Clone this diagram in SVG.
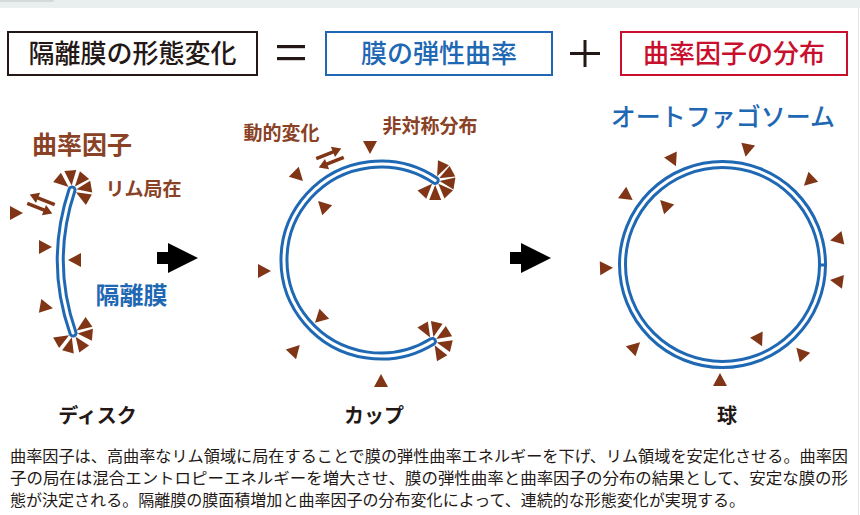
<svg xmlns="http://www.w3.org/2000/svg" xmlns:xlink="http://www.w3.org/1999/xlink" width="860" height="515" viewBox="0 0 860 515">
  <style>
    .jp { font-family: "Noto Sans CJK JP", "Noto Sans", sans-serif; }
    .head { font-size: 26px; font-weight: 500; text-anchor: middle; }
    .brown { fill: #8a4226; font-weight: 700; }
    .blue { fill: #1f68b3; }
    .stage { font-size: 20px; font-weight: 700; fill: #231815; text-anchor: middle; }
    .body { font-size: 15.5px; fill: #231815; }
    .mem-out { fill: none; stroke: #1f68b3; stroke-width: 9; stroke-linecap: round; }
    .mem-in { fill: none; stroke: #ffffff; stroke-width: 3; stroke-linecap: round; }
    .fac { fill: #7f3516; }
    .swap { stroke: #7f3516; stroke-width: 3.4; fill: none; }
  </style>
  <defs>
    <!-- free curvature factor: small triangle pointing along +x -->
    <polygon id="tri" points="7,0 -6,-7 -6,7"/>
    <!-- rim-packed factor: wedge with apex pointing inward -->
    <polygon id="wedge" points="4.5,0 19.5,-6 19.5,6"/>
    <!-- pair of opposing arrows (dynamic exchange) -->
    <g id="swap">
      <line class="swap" x1="13" y1="-4.5" x2="-6" y2="-4.5"/>
      <polygon class="fac" points="-14,-4.5 -5,-10 -5,1"/>
      <line class="swap" x1="-13" y1="4.5" x2="6" y2="4.5"/>
      <polygon class="fac" points="14,4.5 5,-1 5,10"/>
    </g>
  </defs>

  <rect x="0" y="0" width="860" height="515" fill="#ffffff"/>
  <rect x="0" y="0" width="860" height="8" fill="#e9eeee"/>
  <rect x="-10" y="-6" width="65" height="8" rx="4" fill="#d4d9d9"/>
  <line x1="858.5" y1="8" x2="858.5" y2="515" stroke="#e1e6e6" stroke-width="1"/>

  <!-- equation header -->
  <g id="hdr-morph">
    <rect x="8" y="32" width="249" height="43" fill="#ffffff" stroke="#231815" stroke-width="2"/>
    <text class="jp head" x="132.5" y="63" fill="#231815">隔離膜の形態変化</text>
  </g>
  <g id="hdr-equals" fill="#231815">
    <rect x="277" y="45" width="28" height="3.2"/>
    <rect x="277" y="57" width="28" height="3.2"/>
  </g>
  <g id="hdr-elastic">
    <rect x="326" y="32" width="226" height="43" fill="#ffffff" stroke="#1f68b3" stroke-width="2"/>
    <text class="jp head blue" x="439" y="63">膜の弾性曲率</text>
  </g>
  <g id="hdr-plus" fill="#231815">
    <rect x="570" y="52" width="30" height="3"/>
    <rect x="583.5" y="40" width="3" height="27"/>
  </g>
  <g id="hdr-factor">
    <rect x="621" y="32" width="226" height="43" fill="#ffffff" stroke="#c8102e" stroke-width="2"/>
    <text class="jp head" x="734" y="63" fill="#c8102e">曲率因子の分布</text>
  </g>

  <!-- disc stage -->
  <g id="disc">
    <text class="jp brown" x="82" y="154" font-size="25" text-anchor="middle">曲率因子</text>
    <text class="jp brown" x="143.5" y="196" font-size="19" text-anchor="middle">リム局在</text>
    <path class="mem-out" d="M72,190 Q48,262 73,333"/>
    <path class="mem-in" d="M72,190 Q48,262 73,333"/>
    <g class="fac" transform="translate(72,190)">
      <use xlink:href="#wedge" transform="rotate(-140)"/>
      <use xlink:href="#wedge" transform="rotate(-95)"/>
      <use xlink:href="#wedge" transform="rotate(-50)"/>
      <use xlink:href="#wedge" transform="rotate(-10)"/>
      <use xlink:href="#wedge" transform="rotate(30)"/>
    </g>
    <g class="fac" transform="translate(73,333)">
      <use xlink:href="#wedge" transform="rotate(-35)"/>
      <use xlink:href="#wedge" transform="rotate(5)"/>
      <use xlink:href="#wedge" transform="rotate(55)"/>
      <use xlink:href="#wedge" transform="rotate(105)"/>
      <use xlink:href="#wedge" transform="rotate(150)"/>
    </g>
    <g class="fac">
      <use xlink:href="#tri" transform="translate(16,213)"/>
      <use xlink:href="#tri" transform="translate(45,247)"/>
      <use xlink:href="#tri" transform="translate(75,260) rotate(180)"/>
      <use xlink:href="#tri" transform="translate(46,307) rotate(10)"/>
    </g>
    <use xlink:href="#swap" transform="translate(41,204) rotate(22)"/>
    <text class="jp blue" x="131.5" y="304" font-size="24" font-weight="700" text-anchor="middle">隔離膜</text>
  </g>

  <!-- cup stage -->
  <g id="cup">
    <text class="jp brown" x="281.5" y="140" font-size="19" text-anchor="middle">動的変化</text>
    <text class="jp brown" x="430" y="133" font-size="19" text-anchor="middle">非対称分布</text>
    <path class="mem-out" d="M435.2,180.4 A97,96 0 1 0 432.4,341.4"/>
    <path class="mem-in" d="M435.2,180.4 A97,96 0 1 0 432.4,341.4"/>
    <g class="fac" transform="translate(435.2,180.4)">
      <use xlink:href="#wedge" transform="rotate(-65)"/>
      <use xlink:href="#wedge" transform="rotate(-28)"/>
      <use xlink:href="#wedge" transform="rotate(9)"/>
      <use xlink:href="#wedge" transform="rotate(46)"/>
      <use xlink:href="#wedge" transform="rotate(90)"/>
      <use xlink:href="#wedge" transform="rotate(133)"/>
    </g>
    <g class="fac" transform="translate(432.4,341.4)">
      <use xlink:href="#wedge" transform="rotate(-120)"/>
      <use xlink:href="#wedge" transform="rotate(-77)"/>
      <use xlink:href="#wedge" transform="rotate(-32)"/>
      <use xlink:href="#wedge" transform="rotate(14)"/>
      <use xlink:href="#wedge" transform="rotate(60)"/>
    </g>
    <g class="fac">
      <use xlink:href="#tri" transform="translate(370,147) rotate(90)"/>
      <use xlink:href="#tri" transform="translate(298,176) rotate(45)"/>
      <use xlink:href="#tri" transform="translate(323,206) rotate(-135)"/>
      <use xlink:href="#tri" transform="translate(264,271)"/>
      <use xlink:href="#tri" transform="translate(320,318) rotate(136)"/>
      <use xlink:href="#tri" transform="translate(295,350) rotate(-47)"/>
      <use xlink:href="#tri" transform="translate(381,381) rotate(-90)"/>
    </g>
    <use xlink:href="#swap" transform="translate(330,158) rotate(-22) scale(-1,1)"/>
  </g>

  <!-- sphere stage -->
  <g id="sphere">
    <text class="jp blue" x="723" y="126" font-size="25" font-weight="500" text-anchor="middle">オートファゴソーム</text>
    <circle class="mem-out" cx="722.5" cy="264.5" r="100"/>
    <circle cx="722.5" cy="264.5" r="100" fill="none" stroke="#ffffff" stroke-width="3" stroke-dasharray="624.3 4" stroke-dashoffset="-2"/>
    <g class="fac">
      <use xlink:href="#tri" transform="translate(747,150) rotate(102)"/>
      <use xlink:href="#tri" transform="translate(673,160) rotate(65)"/>
      <use xlink:href="#tri" transform="translate(809,181) rotate(136)"/>
      <use xlink:href="#tri" transform="translate(627,196) rotate(36)"/>
      <use xlink:href="#tri" transform="translate(665,205) rotate(-134)"/>
      <use xlink:href="#tri" transform="translate(837,239) rotate(168)"/>
      <use xlink:href="#tri" transform="translate(606,268) rotate(-2)"/>
      <use xlink:href="#tri" transform="translate(837,281) rotate(-172)"/>
      <use xlink:href="#tri" transform="translate(759,340) rotate(64)"/>
      <use xlink:href="#tri" transform="translate(635,347) rotate(-44)"/>
      <use xlink:href="#tri" transform="translate(801,353) rotate(-132)"/>
      <use xlink:href="#tri" transform="translate(720,380) rotate(-90)"/>
    </g>
  </g>

  <!-- transitions between stages -->
  <g id="connectors" fill="#000000">
    <polygon points="157,252 168,252 168,243 198,258 168,273 168,264 157,264"/>
    <polygon points="510,252 521,252 521,243 551,258 521,273 521,264 510,264"/>
  </g>

  <!-- stage captions -->
  <g id="captions">
    <text class="jp stage" x="97.5" y="423">ディスク</text>
    <text class="jp stage" x="374" y="423">カップ</text>
    <text class="jp stage" x="727" y="423">球</text>
  </g>

  <!-- explanatory note -->
  <g id="note">
    <text class="jp body" x="10" y="462" textLength="838" lengthAdjust="spacingAndGlyphs">曲率因子は、高曲率なリム領域に局在することで膜の弾性曲率エネルギーを下げ、リム領域を安定化させる。曲率因</text>
    <text class="jp body" x="10" y="484" textLength="838" lengthAdjust="spacingAndGlyphs">子の局在は混合エントロピーエネルギーを増大させ、膜の弾性曲率と曲率因子の分布の結果として、安定な膜の形</text>
    <text class="jp body" x="10" y="506" textLength="735" lengthAdjust="spacingAndGlyphs">態が決定される。隔離膜の膜面積増加と曲率因子の分布変化によって、連続的な形態変化が実現する。</text>
  </g>
</svg>
